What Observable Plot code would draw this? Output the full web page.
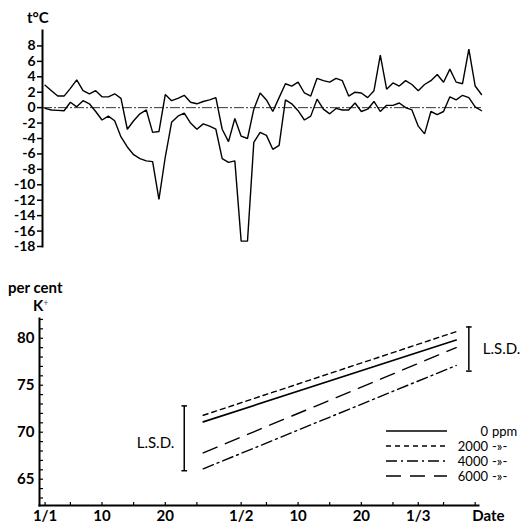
<!DOCTYPE html>
<html><head><meta charset="utf-8">
<script src="https://cdn.jsdelivr.net/npm/d3@7"></script>
<script src="https://cdn.jsdelivr.net/npm/@observablehq/plot@0.6"></script>
<style>
body{margin:0;background:#fff;}
#wrap{position:relative;width:529px;height:527px;font-family:Lato,"Open Sans",sans-serif;color:#000;overflow:hidden;}
.lbl{position:absolute;font-weight:700;font-size:15px;white-space:nowrap;line-height:1;}
#top{position:absolute;left:0;top:0;}
#bot{position:absolute;left:0;top:260px;}
#legend{position:absolute;left:380px;top:420px;}
</style></head><body>
<div id="wrap">
  <div id="top"></div>
  <div id="bot"></div>
  <div class="lbl" style="left:27px;top:10px">t°C</div>
  <div class="lbl" style="left:8px;top:280px">per cent</div>
  <div class="lbl" style="left:33px;top:298px">K<span style="font-size:9px;font-weight:400;vertical-align:5px;color:#555">+</span></div>
  <svg id="legend" width="149" height="70"></svg>
</div>
<script>
// ---- Data: daily air temperature (°C), 1 Jan onward ----
const tMax = [2.9, 2.2, 1.5, 1.5, 2.5, 3.6, 2.2, 1.8, 2.2, 1.4,
  1.4, 1.8, 1.2, -2.8, -1.7, -0.8, -0.3, -3.2, -3.1, 1.7,
  0.9, 1.2, 1.6, 0.7, 0.5, 0.8, 1.0, 1.3, -2.8, -4.4,
  -1.4, -3.7, -4.0, -0.2, 1.9, 1.0, -0.5, 1.3, 3.1, 2.8,
  3.3, 1.9, 1.5, 3.8, 3.5, 3.3, 3.8, 3.5, 1.5, 2.0,
  1.9, 1.3, 2.2, 6.8, 2.4, 3.2, 2.8, 3.5, 3.0, 2.2,
  3.0, 3.5, 4.3, 3.3, 5.0, 3.3, 3.1, 7.6, 2.8, 1.7];
const tMin = [-0.1, -0.3, -0.35, -0.4, 0.7, 0.1, 0.9, 0.5, -0.5, -1.6,
  -1.1, -1.7, -3.8, -5.1, -6.1, -6.6, -6.9, -7.0, -11.9, -6.4,
  -1.9, -1.1, -0.7, -2.0, -2.8, -2.1, -2.4, -2.8, -6.6, -7.1,
  -6.9, -17.3, -17.3, -4.5, -3.2, -3.6, -5.4, -4.9, 1.0, 0.5,
  -0.4, -1.6, -1.1, 1.1, -0.2, -0.8, -0.1, -0.3, -0.3, 0.6,
  -0.5, -0.2, 0.8, -0.5, 0.3, 0.3, 0.6, 0.0, -0.3, -2.4,
  -3.4, -0.5, -0.9, -0.5, 1.4, 1.0, 1.6, 1.3, 0.1, -0.4];
const firstDay = "1970-01-01";
const tempTicks = [8, 6, 4, 2, 0, -2, -4, -6, -8, -10, -12, -14, -16, -18];

// ---- Data: K+ per cent, regression lines ----
const kSeries = ["0 ppm", "2000 -»-", "4000 -»-", "6000 -»-"];
const kNumber = ["0", "2000", "4000", "6000"];
const kSuffix = ["ppm", "-»-", "-»-", "-»-"];
const kDates = ["1970-01-26", "1970-03-07"];
const kStart = [71.1, 71.8, 66.1, 67.8];
const kEnd = [79.8, 80.7, 77.1, 79.0];
const lsdDates = ["1970-01-23", "1970-03-09"];
const lsdLow = [65.9, 76.5];
const lsdHigh = [72.8, 81.2];
const kTicks = [65, 70, 75, 80];
const kMinorTicks = d3.range(63, 83);
const dateTicks = ["1970-01-01","1970-01-05","1970-01-10","1970-01-15","1970-01-20","1970-01-25",
  "1970-02-01","1970-02-05","1970-02-10","1970-02-15","1970-02-20","1970-02-25",
  "1970-03-01","1970-03-05","1970-03-10"];
const dateAxisTitle = "Date";

// ---- build ----
const start = new Date(firstDay + "T00:00:00Z");
const day = i => new Date(start.getTime() + i * 864e5);
const temp = [];
tMax.forEach((v, i) => temp.push({date: day(i), t: v, s: "max"}));
tMin.forEach((v, i) => temp.push({date: day(i), t: v, s: "min"}));
const xDomain = [day(0), day(69)];
const xRange = [44.6, 481];

const dashes = [null, "5,4", "11,4,2,4", "15,9"];
const widths = [1.6, 1.4, 1.4, 1.4];

const topPlot = Plot.plot({
  width: 529, height: 258,
  marginLeft: 42, marginRight: 48, marginTop: 30, marginBottom: 12,
  x: {type: "utc", domain: xDomain, range: xRange, axis: null},
  y: {domain: [-18, 10], axis: null},
  style: {fontFamily: "Lato, sans-serif", fontSize: "14px", fontWeight: 700, color: "#000", background: "transparent"},
  marks: [
    Plot.ruleY([0], {strokeWidth: 0.8, strokeDasharray: "10,2,2,2"}),
    Plot.frame({anchor: "left", strokeWidth: 2}),
    Plot.axisY({ticks: tempTicks, tickSize: 5, tickPadding: 2, tickFormat: d => String(d), strokeWidth: 1.5, label: null, fontSize: 14}),
    Plot.line(temp, {x: "date", y: "t", z: "s", stroke: "#000", strokeWidth: 1.4, strokeLinejoin: "miter"})
  ]
});
document.getElementById("top").appendChild(topPlot);

const kLines = kSeries.map((name, i) => [
  {date: new Date(kDates[0] + "T00:00:00Z"), k: kStart[i], s: name},
  {date: new Date(kDates[1] + "T00:00:00Z"), k: kEnd[i], s: name}
]);
const lsd = lsdDates.map((d, i) => ({date: new Date(d + "T00:00:00Z"), lo: lsdLow[i], hi: lsdHigh[i], side: i}));
const lsdEnds = lsd.flatMap(d => [{date: d.date, y: d.lo}, {date: d.date, y: d.hi}]);
const hbar = {draw(ctx, size) { const r = Math.sqrt(size / Math.PI); ctx.moveTo(-r, 0); ctx.lineTo(r, 0); }};
const tickRight = {draw(ctx, size) { ctx.moveTo(0, 0); ctx.lineTo(3.5, 0); }};
const tickUp = {draw(ctx, size) { ctx.moveTo(0, 0); ctx.lineTo(0, -3.5); }};
const tickDates = dateTicks.map(d => new Date(d + "T00:00:00Z"));
const fmt = d => {
  const dd = d.getUTCDate(), mm = d.getUTCMonth() + 1;
  if (mm === 3 && dd === 10) return "";
  if (dd === 1) return dd + "/" + mm;
  if (dd === 10 || dd === 20) return String(dd);
  return "";
};

const botPlot = Plot.plot({
  width: 529, height: 267,
  marginLeft: 39, marginRight: 51, marginTop: 58, marginBottom: 22,
  x: {type: "utc", domain: xDomain, range: xRange},
  y: {domain: [62.2, 82.1]},
  style: {fontFamily: "Lato, sans-serif", fontSize: "15px", fontWeight: 700, color: "#000", background: "transparent"},
  marks: [
    Plot.frame({anchor: "left", strokeWidth: 2}),
    Plot.frame({anchor: "bottom", strokeWidth: 2}),
    Plot.axisY({ticks: kTicks, tickSize: 0, tickPadding: 5, label: null}),
    Plot.dot(kMinorTicks, {y: d => d, frameAnchor: "left", symbol: tickRight, stroke: "#000", strokeWidth: 1.2}),
    Plot.axisX({ticks: tickDates, tickSize: 0, tickPadding: 5, tickFormat: fmt, label: null}),
    Plot.dot(tickDates, {x: d => d, frameAnchor: "bottom", symbol: tickUp, stroke: "#000", strokeWidth: 1.2}),
    Plot.text([dateAxisTitle], {x: () => tickDates[tickDates.length - 1], frameAnchor: "bottom", lineAnchor: "top", dy: 5, dx: -3, textAnchor: "start", text: d => d}),
    ...kLines.map((pts, i) => Plot.line(pts, {x: "date", y: "k", stroke: "#000", strokeWidth: widths[i], strokeDasharray: dashes[i]})),
    Plot.ruleX(lsd, {x: "date", y1: "lo", y2: "hi", strokeWidth: 1.5}),
    Plot.dot(lsdEnds, {x: "date", y: "y", symbol: hbar, r: 2.8, stroke: "#000", strokeWidth: 1.5}),
    Plot.text(lsd.filter(d => d.side === 0), {x: "date", y: d => (d.lo + d.hi) / 2, text: () => "L.S.D.", textAnchor: "end", dx: -10, dy: 5, fontWeight: 400}),
    Plot.text(lsd.filter(d => d.side === 1), {x: "date", y: d => (d.lo + d.hi) / 2, text: () => "L.S.D.", textAnchor: "start", dx: 14, fontWeight: 400})
  ]
});
document.getElementById("bot").appendChild(botPlot);

// legend
const lg = d3.select("#legend").style("font-family", "Lato, sans-serif").style("font-size", "13px");
const rowY = [11, 26, 41, 56];
kSeries.forEach((name, i) => {
  const g = lg.append("g").attr("transform", `translate(0,${rowY[i]})`);
  g.append("line").attr("x1", 6).attr("x2", 67).attr("y1", 0).attr("y2", 0)
    .attr("stroke", "#000").attr("stroke-width", widths[i])
    .attr("stroke-dasharray", dashes[i]);
  g.append("text").attr("x", 108).attr("y", 4.5).attr("text-anchor", "end").text(kNumber[i]);
  g.append("text").attr("x", 112).attr("y", 4.5).text(kSuffix[i]);
});
</script>
</body></html>
